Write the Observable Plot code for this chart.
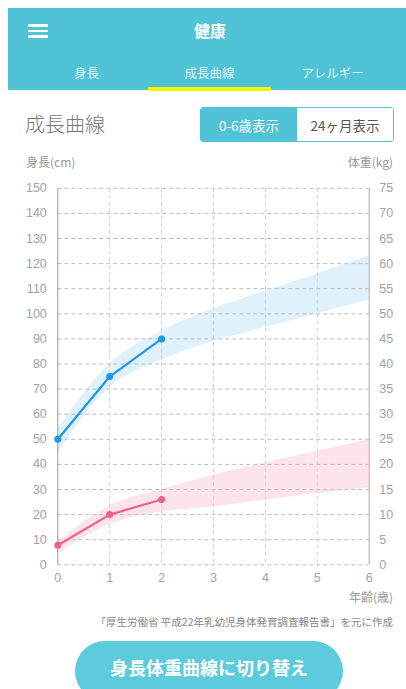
<!DOCTYPE html>
<html><head><meta charset="utf-8">
<script src="https://cdn.jsdelivr.net/npm/d3@7"></script>
<script src="https://cdn.jsdelivr.net/npm/@observablehq/plot@0.6"></script>
<style>
body{margin:0;width:406px;height:689px;overflow:hidden;background:#fff;font-family:"Noto Sans CJK JP","Noto Sans",sans-serif;position:relative}
.abs{position:absolute}
#header{left:8px;top:8px;width:398px;height:82px;background:#51c3d7}
.bar{position:absolute;left:28px;width:20px;height:2.6px;background:#fff;border-radius:1px}
.tab{position:absolute;top:64px;width:123px;text-align:center;font-size:12.5px;color:rgba(255,255,255,0.82);line-height:18px}
#toggle{left:200px;top:107px;width:192px;height:33px;border:1px solid #51c3d7;border-radius:3px;overflow:hidden;display:flex}
#toggle div{flex:1;display:flex;align-items:center;justify-content:center;font-size:13.5px}
.lbl{font-size:12px;color:#999;line-height:16px}
</style></head><body>
<div id="header" class="abs"></div>
<div class="bar" style="top:24px"></div>
<div class="bar" style="top:29.5px"></div>
<div class="bar" style="top:35px"></div>
<div class="abs" style="left:160px;width:100px;top:19px;text-align:center;color:#fff;font-weight:bold;font-size:16px;line-height:22px">健康</div>
<div class="tab" style="left:25px">身長</div>
<div class="tab" style="left:148px">成長曲線</div>
<div class="tab" style="left:271px">アレルギー</div>
<div class="abs" style="left:148px;top:87px;width:123px;height:3.5px;background:#f4f400"></div>
<div class="abs" style="left:25px;top:110px;font-size:20px;font-weight:300;color:#777;line-height:28px">成長曲線</div>
<div id="toggle" class="abs"><div style="background:#51c3d7;color:#fff">0-6歳表示</div><div style="background:#fff;color:#555">24ヶ月表示</div></div>
<div class="abs lbl" style="left:26px;top:154px">身長(cm)</div>
<div class="abs lbl" style="right:13px;top:154px">体重(kg)</div>
<div id="chart" class="abs" style="left:0;top:150px"></div>
<div class="abs lbl" style="right:13px;top:589px">年齢(歳)</div>
<div class="abs" style="right:13px;top:615px;font-size:10.5px;color:#888;line-height:14px">「厚生労働省 平成22年乳幼児身体発育調査報告書」を元に作成</div>
<div class="abs" style="left:75px;top:641px;width:268px;height:60px;border-radius:30px;background:#5ccbdc;color:#fff;font-weight:bold;font-size:18px;text-align:center;line-height:52px">身長体重曲線に切り替え</div>
<script>
const ages = [0, 1, 2, 3, 4, 5, 6];
const heightLow = [44.5, 70.5, 81.5, 89, 94.5, 100, 105.5];
const heightHigh = [54, 80, 93, 102, 109, 116, 123];
const weightLow = [2.2, 8, 10.5, 11.5, 12.9, 14.2, 15.4];
const weightHigh = [4.5, 11.7, 15, 17.8, 20.3, 22.6, 24.9];
const measuredAges = [0, 1, 2];
const measuredHeight = [50, 75, 90];
const measuredWeight = [3.9, 10, 13];
const heightTicks = d3.range(0, 151, 10);
const weightTickLabels = d3.range(0, 76, 5);
const ageTicks = [0, 1, 2, 3, 4, 5, 6];

const K = 2; // 1 kg on the right axis = 2 cm on the left axis
const hBand = ages.map((a, i) => ({a, lo: heightLow[i], hi: heightHigh[i]}));
const wBand = ages.map((a, i) => ({a, lo: weightLow[i] * K, hi: weightHigh[i] * K}));
const hPts = measuredAges.map((a, i) => ({a, v: measuredHeight[i]}));
const wPts = measuredAges.map((a, i) => ({a, v: measuredWeight[i] * K}));

const chart = Plot.plot({
  width: 406, height: 460,
  marginLeft: 57.3, marginRight: 37.3, marginTop: 37.8, marginBottom: 45.7,
  style: {fontFamily: "'Liberation Sans', Arial, sans-serif", fontSize: "12.5px", color: "#a3a3a3", background: "transparent"},
  x: {domain: [0, 6]},
  y: {domain: [0, 150]},
  marks: [
    Plot.areaY(hBand, {x: "a", y1: "lo", y2: "hi", fill: "#e0f1fc", curve: "monotone-x"}),
    Plot.areaY(wBand, {x: "a", y1: "lo", y2: "hi", fill: "#fde3ea", curve: "monotone-x"}),
    Plot.gridY(heightTicks, {stroke: "#bdbdbd", strokeOpacity: 1, strokeDasharray: "4,3", strokeWidth: 1}),
    Plot.gridX(ageTicks.slice(1, 6), {stroke: "#d2d2d2", strokeOpacity: 1, strokeDasharray: "4,3", strokeWidth: 1}),
    Plot.ruleX([0], {stroke: "#999", strokeWidth: 1}),
    Plot.ruleX([6], {stroke: "#aaa", strokeWidth: 1}),
    Plot.axisY(heightTicks, {anchor: "left", tickSize: 0, tickPadding: 11, label: null, fill: "#a3a3a3"}),
    Plot.axisY(heightTicks, {anchor: "right", tickSize: 0, tickPadding: 10, label: null, fill: "#a3a3a3", textAnchor: "start",
      tickFormat: d => String(weightTickLabels[heightTicks.indexOf(d)])}),
    Plot.axisX(ageTicks, {anchor: "bottom", tickSize: 0, tickPadding: 8, label: null, fill: "#a3a3a3"}),
    Plot.line(hPts, {x: "a", y: "v", stroke: "#1c98e6", strokeWidth: 2.2}),
    Plot.dot(hPts, {x: "a", y: "v", r: 3.5, fill: "#1c98e6"}),
    Plot.line(wPts, {x: "a", y: "v", stroke: "#f0608c", strokeWidth: 2.2}),
    Plot.dot(wPts, {x: "a", y: "v", r: 3.5, fill: "#f0608c"})
  ]
});
document.getElementById("chart").appendChild(chart);
</script>
</body></html>
